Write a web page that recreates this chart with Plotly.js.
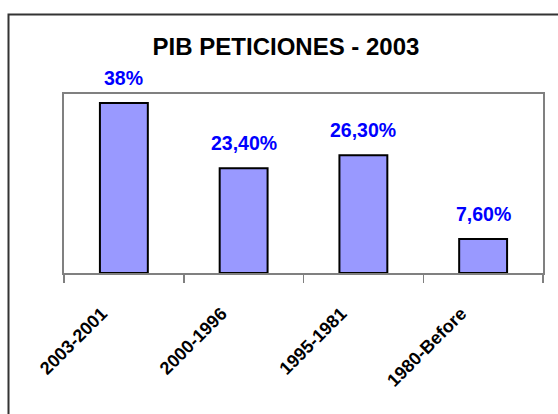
<!DOCTYPE html>
<html>
<head>
<meta charset="utf-8">
<script src="https://cdn.plot.ly/plotly-3.0.1.min.js"></script>
<style>html,body{margin:0;padding:0;background:#fff;}#chart{width:558px;height:414px;}</style>
</head>
<body>
<div id="chart"></div>
<script>
const categories = ["2003-2001", "2000-1996", "1995-1981", "1980-Before"];
const values = [38, 23.4, 26.3, 7.6];
const valueLabels = ["38%", "23,40%", "26,30%", "7,60%"];
const chartTitle = "PIB PETICIONES - 2003";

const W = 558, H = 414;
const M = {l: 64, r: 15, t: 94, b: 141};
const pw = W - M.l - M.r, ph = H - M.t - M.b;
const px = v => (v - M.l) / pw;
const py = v => (H - M.b - v) / ph;

const font = "Liberation Sans, Arial, sans-serif";

const trace = {
  type: "bar",
  x: categories,
  y: values,
  marker: {color: "#9999FF", line: {color: "#000000", width: 2}},
  width: 0.4,
  hoverinfo: "skip",
  cliponaxis: false
};

const annotations = categories.map((c, i) => ({
  x: c, y: values[i], xref: "x", yref: "y",
  text: "<b>" + valueLabels[i] + "</b>",
  showarrow: false, yanchor: "bottom", xanchor: "center",
  yshift: 12,
  font: {family: font, size: 19.5, color: "#0000FF"}
}));

const layout = {
  width: W, height: H,
  margin: M,
  paper_bgcolor: "#ffffff",
  plot_bgcolor: "#ffffff",
  showlegend: false,
  title: {
    text: "<b>" + chartTitle + "</b>",
    x: px(286), xref: "paper", xanchor: "center",
    y: 1 - 47 / H, yref: "container", yanchor: "middle",
    font: {family: font, size: 24, color: "#000000"}
  },
  xaxis: {
    type: "category",
    range: [-0.5, 3.5],
    showline: true, linecolor: "#808080", linewidth: 2, mirror: true,
    ticks: "outside", tickson: "boundaries", ticklen: 8, tickcolor: "#808080", tickwidth: 1.5,
    tickangle: -45,
    tickfont: {family: font, size: 18, color: "#000000", weight: "bold"},
    ticklabelstandoff: 21,
    ticklabelshift: -22,
    showgrid: false, zeroline: false, fixedrange: true
  },
  yaxis: {
    range: [0, 40],
    showline: true, linecolor: "#808080", linewidth: 2, mirror: true,
    showticklabels: false, ticks: "", showgrid: false, zeroline: false, fixedrange: true
  },
  annotations: annotations,
  shapes: [{
    type: "rect", xref: "paper", yref: "paper",
    x0: px(8.5), x1: px(570), y0: py(430), y1: py(14.5),
    line: {color: "#333333", width: 2}, fillcolor: "rgba(0,0,0,0)", layer: "below"
  }]
};

Plotly.newPlot("chart", [trace], layout, {displayModeBar: false, staticPlot: true});
</script>
</body>
</html>
